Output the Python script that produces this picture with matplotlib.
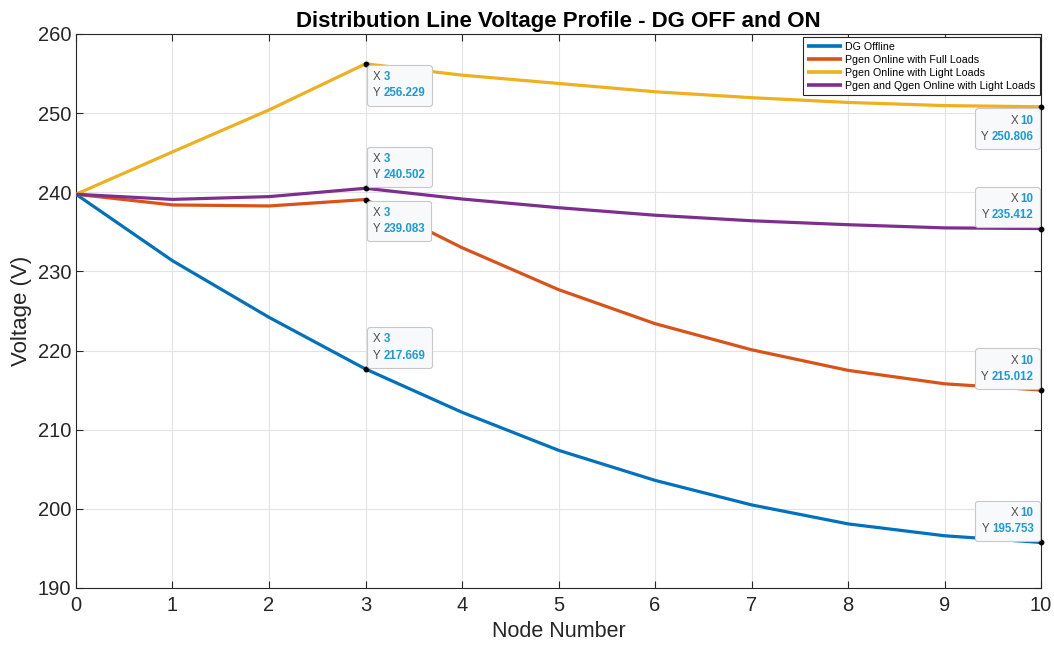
import matplotlib
matplotlib.use("Agg")
import matplotlib.pyplot as plt
from matplotlib.offsetbox import TextArea, HPacker, VPacker, AnnotationBbox

plt.rcParams['font.family'] = ['Liberation Sans', 'DejaVu Sans']

nodes = [0, 1, 2, 3, 4, 5, 6, 7, 8, 9, 10]
dg_offline = [239.75, 231.35, 224.2, 217.669, 212.2, 207.4, 203.6, 200.5, 198.1, 196.6, 195.753]
pgen_full = [239.75, 238.4, 238.27, 239.083, 233.0, 227.7, 223.4, 220.1, 217.5, 215.8, 215.012]
pgen_light = [239.75, 245.1, 250.4, 256.229, 254.8, 253.75, 252.7, 251.95, 251.35, 250.95, 250.806]
pq_light = [239.75, 239.1, 239.45, 240.502, 239.15, 238.05, 237.1, 236.4, 235.9, 235.5, 235.412]

series_labels = ["DG Offline", "Pgen Online with Full Loads",
                 "Pgen Online with Light Loads", "Pgen and Qgen Online with Light Loads"]
series_colors = ["#0072BD", "#D95319", "#EDB120", "#7E2F8E"]
series = [dg_offline, pgen_full, pgen_light, pq_light]

# data tips: (series index, node, box alignment, offset in points)
tips = [
    (2, 3, (0, 1), (1, -0.8)),
    (3, 3, (0, 0), (1, 0.8)),
    (1, 3, (0, 1), (1, -0.8)),
    (0, 3, (0, 0), (1, 0.8)),
    (2, 10, (1, 1), (-0.8, -1.2)),
    (3, 10, (1, 0), (-0.8, 0.8)),
    (1, 10, (1, 0), (-0.8, 0.8)),
    (0, 10, (1, 0), (-0.8, 0.8)),
]

fig = plt.figure(figsize=(10.54, 6.46), dpi=100)
ax = fig.add_axes([0.0721, 0.0898, 0.9156, 0.8576])

for vals, lab, col in zip(series, series_labels, series_colors):
    ax.plot(nodes, vals, color=col, lw=2.3, label=lab, solid_capstyle='butt', zorder=3)

ax.set_xlim(0, 10)
ax.set_ylim(190, 260)
ax.set_xticks(range(0, 11))
ax.set_yticks(range(190, 261, 10))
ax.grid(True, color="#e3e3e3", lw=0.8)
ax.set_axisbelow(True)
ax.tick_params(direction='in', labelsize=14.5, colors="#262626", length=5,
               top=True, right=True, width=0.8)
ax.tick_params(axis='x', pad=6)
for sp in ax.spines.values():
    sp.set_color("#262626")
    sp.set_linewidth(0.8)

ax.set_xlabel("Node Number", fontsize=15.5, color="#262626", labelpad=4)
ax.set_ylabel("Voltage (V)", fontsize=16, color="#262626", labelpad=4)
ax.set_title("Distribution Line Voltage Profile - DG OFF and ON", fontsize=16,
             fontweight='bold', pad=5)

leg = ax.legend(loc='upper right', fontsize=7.7, handlelength=3.2, handletextpad=0.3,
                borderpad=0.45, labelspacing=0.28, fancybox=False, framealpha=1,
                edgecolor="#262626", bbox_to_anchor=(1.0, 0.997), borderaxespad=0.1)
leg.get_frame().set_linewidth(0.8)
for ln in leg.get_lines():
    ln.set_linewidth(2.6)

value_color = "#1a9ad6"
label_color = "#4d4d4d"
for si, node, align, off in tips:
    yv = series[si][node]
    ax.plot([node], [yv], 'o', color='black', ms=3.2, zorder=6, clip_on=False)
    row_x = HPacker(children=[TextArea("X", textprops=dict(color=label_color, fontsize=8.3)),
                              TextArea(f"{node}", textprops=dict(color=value_color, fontsize=8.3,
                                                                 fontweight='bold'))],
                    align='baseline', pad=0, sep=2)
    row_y = HPacker(children=[TextArea("Y", textprops=dict(color=label_color, fontsize=8.3)),
                              TextArea(f"{yv:.3f}", textprops=dict(color=value_color, fontsize=8.3,
                                                                   fontweight='bold'))],
                    align='baseline', pad=0, sep=2)
    box = VPacker(children=[row_x, row_y], align='right' if node == 10 else 'left',
                  pad=4.5, sep=3)
    ab = AnnotationBbox(box, (node, yv), xybox=off, xycoords='data',
                        boxcoords='offset points', box_alignment=align,
                        pad=0, frameon=True, annotation_clip=False,
                        bboxprops=dict(boxstyle='round,pad=0,rounding_size=0.2',
                                       fc="#f8f9fb", ec="#c8c8c8", lw=0.8),
                        zorder=7)
    ax.add_artist(ab)

fig.savefig("out.png", dpi=100, facecolor='white')
